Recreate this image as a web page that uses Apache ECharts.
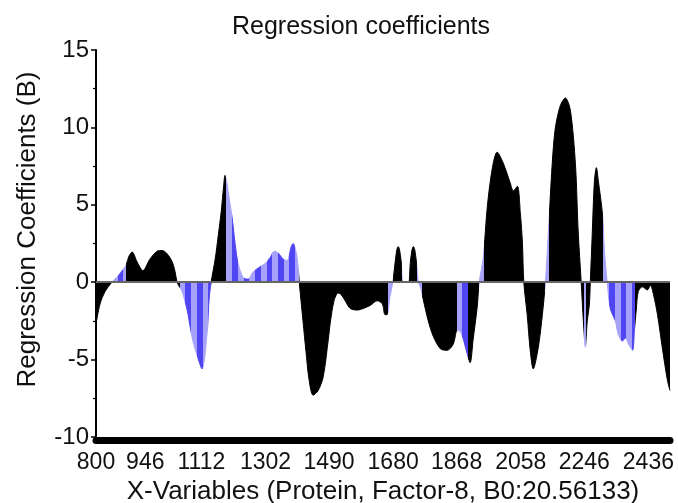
<!DOCTYPE html>
<html><head><meta charset="utf-8">
<script src="https://cdn.jsdelivr.net/npm/echarts@6/dist/echarts.min.js"></script>
<style>html,body{margin:0;padding:0;background:#fff}#c{width:678px;height:503px}</style>
</head><body><div id="c"></div>
<script>
const wavenumbers = [800,812,827,847,865,883,889,898,907,922,939,960,981,996,1010,1025,1034,1040,1046,1055,1070,1079,1087,1099,1114,1129,1135,1141,1153,1162,1171,1178,1182,1188,1191,1203,1212,1221,1236,1250,1265,1286,1301,1316,1328,1339,1354,1366,1378,1384,1393,1399,1402,1413,1422,1431,1443,1458,1473,1488,1494,1505,1517,1526,1538,1553,1574,1591,1612,1633,1648,1656,1662,1671,1679,1686,1691,1695,1699,1704,1710,1725,1731,1736,1740,1744,1749,1755,1762,1769,1784,1799,1820,1840,1858,1870,1879,1888,1899,1908,1917,1929,1935,1947,1959,1974,1988,2006,2027,2036,2048,2057,2063,2067,2077,2086,2095,2110,2122,2131,2140,2151,2160,2175,2190,2205,2220,2228,2237,2242,2246,2249,2255,2261,2264,2270,2276,2282,2288,2300,2306,2314,2323,2338,2347,2359,2368,2377,2389,2395,2400,2406,2418,2433,2442,2451,2463,2477,2492,2500];
const coefficients = [-2.7,-1.4,-0.6,0,0.4,0.9,1.1,1.7,1.95,1.3,0.75,1.5,2.0,2.05,1.85,1.35,0.7,0,-0.25,-0.6,-1.8,-2.9,-3.8,-4.7,-5.6,-3.3,-1.1,0,1.5,3.0,4.6,6.2,6.9,6.4,5.9,4.2,2.5,1.2,0.3,0.2,0.65,1.0,1.2,1.6,2.0,1.9,1.5,1.4,2.3,2.5,1.9,0.9,0,-2.5,-4.5,-6.3,-7.3,-7.0,-6.1,-3.7,-2.6,-1.2,-0.7,-0.8,-1.2,-1.7,-1.8,-1.7,-1.5,-1.2,-1.4,-2.1,-2.1,-0.9,0,1.3,2.1,2.3,2.1,1.3,0,0,1.3,2.1,2.3,2.1,1.3,0,-0.4,-1.1,-2.5,-3.5,-4.3,-4.4,-4.0,-3.1,-3.2,-3.7,-4.6,-5.2,-3.7,-1.6,0,1.6,4.9,7.4,8.4,7.7,6.4,5.9,6.2,4.4,2.5,0,-2.1,-4.4,-5.6,-4.2,-2.1,0,3.3,7.6,9.9,11.4,11.9,11.1,7.6,3.3,0,-2.0,-3.4,-4.2,-2.5,-1.5,0,3.3,6.5,7.4,6.5,4.4,2.0,0,-1.7,-2.5,-3.4,-3.8,-3.6,-4.0,-4.4,-3.0,-1.8,-0.6,-0.3,-0.5,-0.2,-0.8,-2.1,-4.2,-6.3,-7.0];
const xTickLabels = [800, 946, 1112, 1302, 1490, 1680, 1868, 2058, 2246, 2436];
const yTicks = [-10, -5, 0, 5, 10, 15];
// wavenumber ranges drawn in blue (non-significant), the rest black
const blueRanges = [[847,889],[1048,1141],[1186,1402],[1664,1679],[1705,1727],[1752,1766],[1868,1902],[1933,1950],[2131,2141],[2246,2252],[2303,2396]];

const black = '#000000', darkBlue = '#4f45f3', lightBlue = '#a7a2f9';
const pieces = [];
let cur = 700;
blueRanges.forEach(([a, b]) => {
  if (a > cur) pieces.push({gte: cur, lt: a, color: black});
  let k = 0;
  for (let s = a; s < b; s += 17) {
    pieces.push({gte: s, lt: Math.min(s + 17, b), color: (k++ % 2) ? darkBlue : lightBlue});
  }
  cur = b;
});
pieces.push({gte: cur, lte: 2700, color: black});

const seriesData = wavenumbers.map((w, i) => [w, coefficients[i]]);
const FONT = '"Liberation Sans", Arial, sans-serif';
const chart = echarts.init(document.getElementById('c'), null, {renderer: 'canvas'});
chart.setOption({
  animation: false,
  backgroundColor: '#fff',
  title: {
    text: 'Regression coefficients',
    left: 356, top: 10, textAlign: 'center',
    textStyle: {fontFamily: FONT, fontSize: 25, fontWeight: 'normal', color: '#111'}
  },
  grid: {left: 96, right: 8, top: 50, bottom: 66, outerBoundsMode: 'none', containLabel: false},
  visualMap: {
    show: false, type: 'piecewise', dimension: 0, seriesIndex: 0,
    pieces: pieces, outOfRange: {color: black}
  },
  xAxis: {
    type: 'value', min: 800, max: 2500, offset: 3,
    axisLine: {show: true, onZero: false, lineStyle: {color: '#000', width: 7, cap: 'round'}},
    axisTick: {show: false},
    splitLine: {show: false},
    axisLabel: {customValues: xTickLabels, formatter: v => String(v), fontFamily: FONT, fontSize: 23, color: '#111', margin: 11},
    name: 'X-Variables (Protein, Factor-8, B0:20.56133)',
    nameLocation: 'middle', nameGap: 39,
    nameTextStyle: {fontFamily: FONT, fontSize: 26, color: '#111'}
  },
  yAxis: {
    type: 'value', min: -10, max: 15, interval: 5,
    axisLine: {show: true, onZero: false, lineStyle: {color: '#000', width: 2}},
    axisTick: {show: true, length: 5, lineStyle: {color: '#000', width: 1.5}},
    minorTick: {show: true, splitNumber: 2, length: 3, lineStyle: {color: '#000', width: 1.2}},
    splitLine: {show: false},
    axisLabel: {fontFamily: FONT, fontSize: 24, color: '#111', margin: 7, customValues: yTicks},
    name: 'Regression Coefficients (B)',
    nameLocation: 'middle', nameGap: 55,
    nameTextStyle: {fontFamily: FONT, fontSize: 26, color: '#111', padding: [0, 0, 0, 28]}
  },
  series: [{
    type: 'line', data: seriesData, smooth: 0.3, symbol: 'none',
    lineStyle: {width: 1},
    areaStyle: {opacity: 1},
    markLine: {
      silent: true, symbol: ['none', 'none'], label: {show: false},
      lineStyle: {color: '#666', width: 2, type: 'solid'},
      data: [{yAxis: 0}]
    }
  }]
});
</script></body></html>
